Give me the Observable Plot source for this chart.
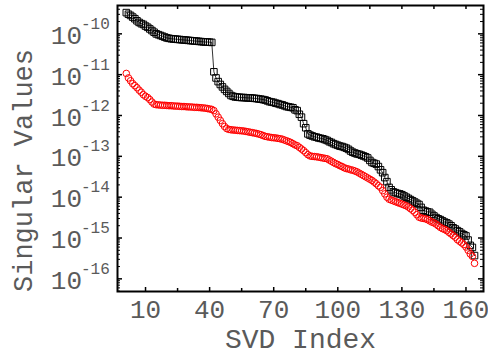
<!DOCTYPE html>
<html>
<head>
<meta charset="utf-8">
<script src="https://cdn.jsdelivr.net/npm/d3@7"></script>
<script src="https://cdn.jsdelivr.net/npm/@observablehq/plot@0.6"></script>
<style>
  html, body { margin: 0; padding: 0; background: #fff; }
  svg { display: block; }
</style>
</head>
<body>
<div id="chart"></div>
<script>
// log10 of singular values, index 1..164
const blackLog10 = [
  -9.48,-9.52,-9.55,-9.59,-9.63,-9.68,-9.72,-9.75,-9.77,-9.81,
  -9.84,-9.88,-9.92,-9.96,-10.00,-10.02,-10.04,-10.06,-10.08,-10.10,
  -10.11,-10.12,-10.125,-10.13,-10.135,-10.14,-10.145,-10.15,-10.155,-10.16,
  -10.165,-10.17,-10.175,-10.18,-10.185,-10.19,-10.195,-10.20,-10.20,-10.205,
  -10.21,-10.93,-11.08,-11.17,-11.24,-11.30,-11.36,-11.41,-11.46,-11.51,
  -11.53,-11.545,-11.55,-11.555,-11.56,-11.56,-11.565,-11.57,-11.57,-11.575,
  -11.58,-11.585,-11.595,-11.60,-11.61,-11.62,-11.64,-11.66,-11.67,-11.68,
  -11.70,-11.71,-11.73,-11.74,-11.76,-11.78,-11.79,-11.80,-11.81,-11.86,
  -11.88,-11.97,-12.04,-12.20,-12.30,-12.45,-12.48,-12.50,-12.52,-12.53,
  -12.55,-12.56,-12.57,-12.59,-12.61,-12.64,-12.66,-12.69,-12.71,-12.73,
  -12.75,-12.76,-12.78,-12.80,-12.83,-12.87,-12.90,-12.92,-12.94,-12.95,
  -12.97,-12.99,-13.01,-13.04,-13.10,-13.15,-13.17,-13.19,-13.25,-13.33,
  -13.40,-13.52,-13.62,-13.76,-13.82,-13.87,-13.89,-13.91,-13.92,-13.94,
  -13.97,-14.00,-14.03,-14.06,-14.09,-14.12,-14.15,-14.18,-14.25,-14.32,
  -14.34,-14.36,-14.37,-14.42,-14.46,-14.50,-14.53,-14.55,-14.58,-14.61,
  -14.63,-14.66,-14.70,-14.75,-14.78,-14.82,-14.85,-14.89,-14.92,-14.95,
  -15.05,-15.18,-15.23,-15.43
];
const redLog10 = [
  -10.97,-11.08,-11.15,-11.22,-11.27,-11.32,-11.38,-11.43,-11.49,-11.53,
  -11.56,-11.61,-11.67,-11.72,-11.735,-11.74,-11.745,-11.75,-11.75,-11.755,
  -11.76,-11.76,-11.765,-11.77,-11.77,-11.775,-11.78,-11.78,-11.785,-11.79,
  -11.79,-11.795,-11.80,-11.80,-11.805,-11.81,-11.815,-11.82,-11.83,-11.84,
  -11.85,-11.88,-11.96,-12.04,-12.12,-12.20,-12.27,-12.32,-12.34,-12.35,
  -12.355,-12.36,-12.365,-12.37,-12.375,-12.38,-12.39,-12.40,-12.41,-12.42,
  -12.43,-12.44,-12.455,-12.47,-12.49,-12.51,-12.52,-12.53,-12.54,-12.545,
  -12.55,-12.56,-12.57,-12.58,-12.60,-12.62,-12.64,-12.66,-12.69,-12.72,
  -12.74,-12.78,-12.82,-12.86,-12.91,-12.96,-12.99,-13.00,-13.005,-13.01,
  -13.02,-13.03,-13.04,-13.05,-13.06,-13.09,-13.12,-13.15,-13.18,-13.20,
  -13.23,-13.25,-13.28,-13.30,-13.31,-13.33,-13.34,-13.36,-13.38,-13.41,
  -13.44,-13.47,-13.50,-13.53,-13.56,-13.59,-13.63,-13.67,-13.72,-13.76,
  -13.84,-13.92,-14.00,-14.05,-14.07,-14.09,-14.11,-14.13,-14.15,-14.17,
  -14.19,-14.21,-14.24,-14.28,-14.32,-14.37,-14.43,-14.49,-14.51,-14.52,
  -14.53,-14.55,-14.58,-14.61,-14.63,-14.66,-14.70,-14.74,-14.77,-14.79,
  -14.82,-14.86,-14.90,-14.94,-14.98,-15.04,-15.08,-15.12,-15.16,-15.22,
  -15.30,-15.39,-15.45,-15.62
];
const xTickLabels = [10, 40, 70, 100, 130, 160];
const xMinorTicks = [25, 55, 85, 115, 145];
const yTickExponents = [-10, -11, -12, -13, -14, -15, -16];

const black = blackLog10.map((v, i) => ({index: i + 1, value: Math.pow(10, v)}));
const red = redLog10.map((v, i) => ({index: i + 1, value: Math.pow(10, v)}));

const W = 488, H = 358;
const mL = 117, mR = 5, mT = 5, mB = 67;
const pw = W - mL - mR, ph = H - mT - mB;
const yMajor = yTickExponents.map(e => Math.pow(10, e));
const yMinor = [];
for (let e = -17; e <= -10; e++) for (let k = 2; k <= 9; k++) {
  const v = k * Math.pow(10, e);
  if (Math.log10(v) > -16.31 && Math.log10(v) < -9.306) yMinor.push(v);
}
const textColor = "#5a5a5a";
const font = "Liberation Mono, DejaVu Sans Mono, monospace";

const chart = Plot.plot({
  width: W, height: H,
  marginLeft: mL, marginRight: mR, marginTop: mT, marginBottom: mB,
  style: {fontFamily: font, background: "white"},
  x: {domain: [-3.12, 168.2], axis: null},
  y: {type: "log", domain: [Math.pow(10, -16.31), Math.pow(10, -9.306)], axis: null},
  marks: [
    // y ticks left & right
    Plot.tickY(yMajor, {y: d => d, insetRight: pw - 5, stroke: "black", strokeWidth: 1.5}),
    Plot.tickY(yMajor, {y: d => d, insetLeft: pw - 5, stroke: "black", strokeWidth: 1.5}),
    Plot.tickY(yMinor, {y: d => d, insetRight: pw - 3, stroke: "black", strokeWidth: 1}),
    Plot.tickY(yMinor, {y: d => d, insetLeft: pw - 3, stroke: "black", strokeWidth: 1}),
    // x ticks bottom & top
    Plot.tickX(xTickLabels, {x: d => d, insetTop: ph - 4, stroke: "black", strokeWidth: 1.5}),
    Plot.tickX(xTickLabels, {x: d => d, insetBottom: ph - 4, stroke: "black", strokeWidth: 1.5}),
    Plot.tickX(xMinorTicks, {x: d => d, insetTop: ph - 3, stroke: "black", strokeWidth: 1.5}),
    Plot.tickX(xMinorTicks, {x: d => d, insetBottom: ph - 4, stroke: "black", strokeWidth: 1.5}),
    // data
    Plot.line(black, {x: "index", y: "value", stroke: "black", strokeWidth: 0.8}),
    Plot.dot(black, {x: "index", y: "value", symbol: "square", r: 3.7, stroke: "black", fill: "none", strokeWidth: 1}),
    Plot.dot(red, {x: "index", y: "value", symbol: "circle", r: 3.3, stroke: "red", fill: "none", strokeWidth: 1}),
    Plot.frame({stroke: "black", strokeWidth: 2}),
    // y tick labels: 10^e
    Plot.text(yTickExponents, {y: e => Math.pow(10, e), frameAnchor: "left", text: () => "10",
      textAnchor: "end", lineAnchor: "bottom", dx: -35.5, dy: 10, fontSize: 26, fill: textColor}),
    Plot.text(yTickExponents, {y: e => Math.pow(10, e), frameAnchor: "left", text: e => String(e),
      textAnchor: "start", lineAnchor: "bottom", dx: -36.5, dy: -5, fontSize: 16, fill: textColor}),
    // x tick labels
    Plot.text(xTickLabels, {x: d => d, frameAnchor: "bottom", text: d => String(d),
      lineAnchor: "bottom", dy: 26, fontSize: 26, fill: textColor}),
    // axis titles
    Plot.text(["SVD Index"], {frameAnchor: "bottom", lineAnchor: "bottom", dy: 56, fontSize: 28, fill: textColor}),
    Plot.text(["Singular Values"], {frameAnchor: "left", rotate: -90, textAnchor: "middle", lineAnchor: "bottom",
      dx: -85.5, dy: 22, fontSize: 27, fill: textColor})
  ]
});
document.getElementById("chart").appendChild(chart);
</script>
</body>
</html>
